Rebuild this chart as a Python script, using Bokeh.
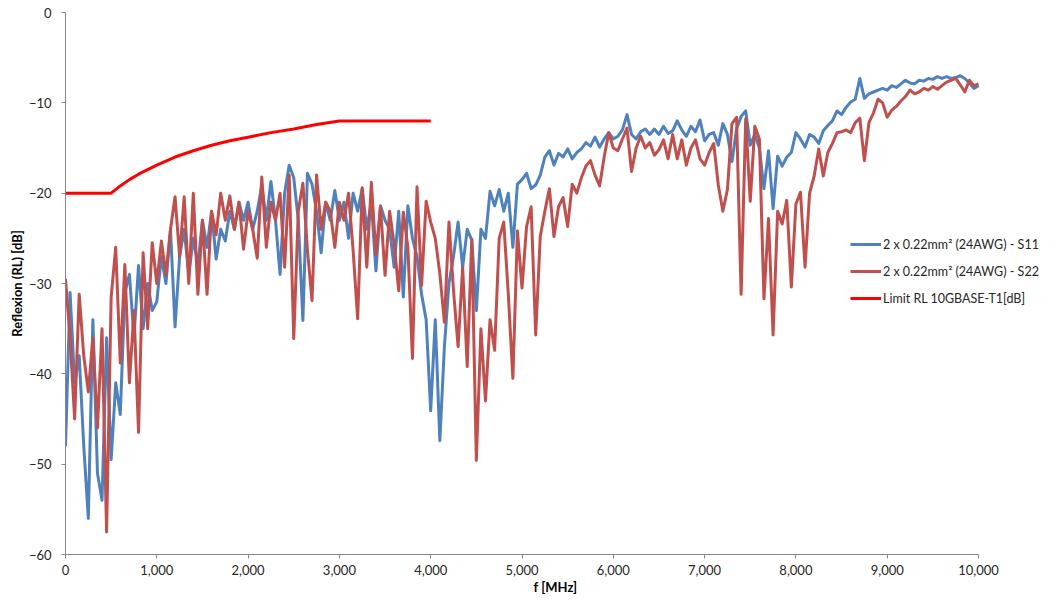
from bokeh.plotting import figure
from bokeh.models import Legend, LegendItem, NumeralTickFormatter, FixedTicker, Range1d
from bokeh.embed import file_html
from bokeh.resources import INLINE

# ---------------- data ----------------
STEP_MHZ = 50  # sampling grid of the two measured curves

# S11, 2 x 0.22mm² (24AWG), dB, one value every 50 MHz from 0 to 10000 MHz
S11_DB = [
    -48, -31, -41, -38, -48, -56, -34, -51, -54, -36,
    -49.5, -41, -44.5, -31, -29, -36, -28, -35, -30, -33,
    -32, -27, -30, -24, -34.8, -27, -24, -29, -25, -28,
    -23, -26, -22, -27.3, -24, -25.3, -22, -24, -21, -23,
    -21, -24, -22, -19.1, -23, -18.7, -23, -29, -20, -16.9,
    -18.3, -23, -34.1, -17.8, -19, -22, -26.6, -21, -23, -19.7,
    -23, -21, -25, -20, -22, -19.5, -24, -21, -28.6, -21.4,
    -23, -24, -28.2, -22, -31.5, -21.4, -25, -27, -31.2, -34,
    -44.1, -34, -47.4, -37, -30, -27, -23.2, -28.2, -24, -25.2,
    -33, -24, -25, -19.8, -21.4, -19.6, -22, -20, -26, -19,
    -18.5, -17.8, -19.5, -19.1, -18, -16, -15.3, -16.9, -15.6, -16,
    -15.1, -16.2, -15.5, -15.1, -14.4, -14.8, -13.8, -14.9, -14, -13.3,
    -14, -13.7, -13, -11.3, -13.5, -14, -13.2, -12.9, -13.5, -12.9,
    -13.5, -12.6, -13.4, -13.1, -12, -13, -13.7, -12.6, -13.2, -11.9,
    -14.2, -13.5, -13.3, -14.7, -12.3, -13.5, -16.5, -12.9, -11.5, -10.9,
    -14.7, -13.5, -15, -19.5, -15.3, -21.7, -15.9, -17, -16, -15.5,
    -13.3, -14, -14.9, -13.5, -13.8, -14.5, -13.1, -12.5, -12, -10.9,
    -11.3, -10.5, -9.9, -9.6, -7.3, -9.5, -9, -8.8, -8.6, -8.4,
    -8.6, -8.1, -8.3, -7.9, -7.5, -7.8, -7.9, -7.5, -7.6, -7.3,
    -7.4, -7.1, -7.3, -7.1, -7.3, -7.2, -7.0, -7.3, -7.8, -8.4,
    -8.1,
]

# S22, same cable, dB, same grid
S22_DB = [
    -29.5, -36, -45, -31.2, -38, -42, -36, -46, -35, -57.5,
    -31.5, -26, -38.8, -27.9, -41, -33, -46.5, -26.6, -35, -25.5,
    -30, -25.3, -29, -24, -20.4, -27, -20.4, -30, -20, -31.2,
    -23, -31.2, -22, -24.6, -20, -23, -20.3, -24, -21, -26.2,
    -22, -24, -27.2, -18.2, -26, -21, -23, -20, -28.2, -18,
    -36.1, -22, -18.9, -26.3, -31.9, -18, -24, -21, -22, -26,
    -21, -23, -20, -26.3, -33.9, -19.4, -28.2, -18.8, -26.8, -21.5,
    -29.1, -22, -25.7, -30.8, -22.1, -26, -38.3, -19.3, -30.2, -20.9,
    -23.2, -25, -28.9, -34.3, -23.2, -30.8, -37, -28.2, -39.2, -25.1,
    -49.6, -35, -43, -34, -37.4, -25, -23.2, -31.2, -40.5, -24.2,
    -30.5, -23.7, -21.5, -35.7, -24.8, -22, -19.5, -24.8, -21.5, -20.5,
    -23.7, -19, -20, -18.3, -17, -16.4, -18, -19.2, -16, -13.3,
    -15, -15.3, -14, -12.8, -17.6, -15, -13.7, -15, -14.4, -15.8,
    -15.2, -14.1, -16.2, -13.5, -16.2, -14.1, -16.9, -15, -14.1, -16.2,
    -16.9, -15.5, -14.5, -19.1, -22, -19.6, -12.3, -11.6, -31.2, -11.8,
    -20.9, -12.6, -14, -31.7, -22.8, -35.7, -22, -23.4, -20.8, -30.4,
    -21.2, -19.9, -28.2, -20, -18.1, -15.1, -18.1, -15.5, -14.5, -13.3,
    -13.2, -13, -13.3, -12.2, -11.7, -16.4, -12.2, -11.1, -9.6, -10,
    -11.6, -10.8, -10.4, -9.8, -9.3, -8.6, -9, -8.8, -8.4, -8.6,
    -8.2, -8.5, -8.1, -7.7, -7.5, -7.3, -8.0, -8.8, -7.5, -8.1,
    -7.9,
]

FREQ_MHZ = [i * STEP_MHZ for i in range(len(S11_DB))]

# Limit RL 10GBASE-T1
LIMIT_F = [0, 500, 600, 700, 800, 1000, 1200, 1400, 1600, 1800, 2000,
           2250, 2500, 2750, 3000, 4000]
LIMIT_DB = [-20, -20, -19.2, -18.5, -17.9, -16.9, -16.0, -15.3, -14.7, -14.2,
            -13.8, -13.3, -12.9, -12.4, -12.0, -12.0]

X_TICKS = [0, 1000, 2000, 3000, 4000, 5000, 6000, 7000, 8000, 9000, 10000]
Y_TICKS = [-60, -50, -40, -30, -20, -10, 0]
X_MAX = 10000

LABEL_S11 = "2 x 0.22mm² (24AWG) - S11"
LABEL_S22 = "2 x 0.22mm² (24AWG) - S22"
LABEL_LIM = "Limit RL 10GBASE-T1[dB]"

# ---------------- figure ----------------
FONT = "Lato"
AXIS_GREY = "#868686"
TEXT = "#262626"

FIG_W, FIG_H = 1045, 597
LEFT, TOP, BOTTOM = 65, 12, 40
AXIS_PX = 913                      # pixel length of the 0..10000 MHz axis
FRAME_W = FIG_W - LEFT             # frame runs to the right edge (room for legend)
x_end = X_MAX * FRAME_W / AXIS_PX

p = figure(width=FIG_W, height=FIG_H,
           x_range=Range1d(0, x_end), y_range=Range1d(-60, 0),
           output_backend="svg", toolbar_location=None,
           min_border_left=LEFT, min_border_right=0,
           min_border_top=TOP, min_border_bottom=BOTTOM)

p.outline_line_color = None
p.xgrid.visible = False
p.ygrid.visible = False
p.background_fill_color = "white"
p.border_fill_color = "white"

r11 = p.line(FREQ_MHZ, S11_DB, line_color="#4F81BD", line_width=3, line_join="round")
r22 = p.line(FREQ_MHZ, S22_DB, line_color="#C0504D", line_width=3, line_join="round")
rlim = p.line(LIMIT_F, LIMIT_DB, line_color="#FF0000", line_width=3, line_join="round")

for ax in (p.xaxis[0], p.yaxis[0]):
    ax.axis_line_color = AXIS_GREY
    ax.axis_line_width = 1
    ax.major_tick_line_color = AXIS_GREY
    ax.major_tick_out = 4
    ax.major_tick_in = 0
    ax.minor_tick_line_color = None
    ax.major_label_text_font = FONT
    ax.major_label_text_font_size = "13px"
    ax.major_label_text_color = TEXT
    ax.axis_label_text_font = FONT
    ax.axis_label_text_font_size = "13px"
    ax.axis_label_text_font_style = "bold"
    ax.axis_label_text_color = "#000000"

p.xaxis.bounds = (0, X_MAX)
p.xaxis.ticker = FixedTicker(ticks=X_TICKS)
p.yaxis.ticker = FixedTicker(ticks=Y_TICKS)
p.xaxis.formatter = NumeralTickFormatter(format="0,0")
p.xaxis.axis_label = "f [MHz]"
p.yaxis.axis_label = "Reflexion (RL) [dB]"
p.xaxis.major_label_standoff = 6
p.yaxis.major_label_standoff = 10
p.xaxis.axis_label_standoff = 1
p.yaxis.axis_label_standoff = 1

legend = Legend(items=[LegendItem(label=LABEL_S11, renderers=[r11]),
                       LegendItem(label=LABEL_S22, renderers=[r22]),
                       LegendItem(label=LABEL_LIM, renderers=[rlim])],
                location=(785, 246))
legend.background_fill_alpha = 0
legend.border_line_alpha = 0
legend.padding = 0
legend.margin = 0
legend.spacing = 7
legend.glyph_width = 31
legend.glyph_height = 20
legend.label_height = 20
legend.label_standoff = 2
legend.label_text_font = FONT
legend.label_text_font_size = "12.5px"
legend.label_text_color = TEXT
p.add_layout(legend)

open("out.html", "w").write(file_html(p, INLINE))
